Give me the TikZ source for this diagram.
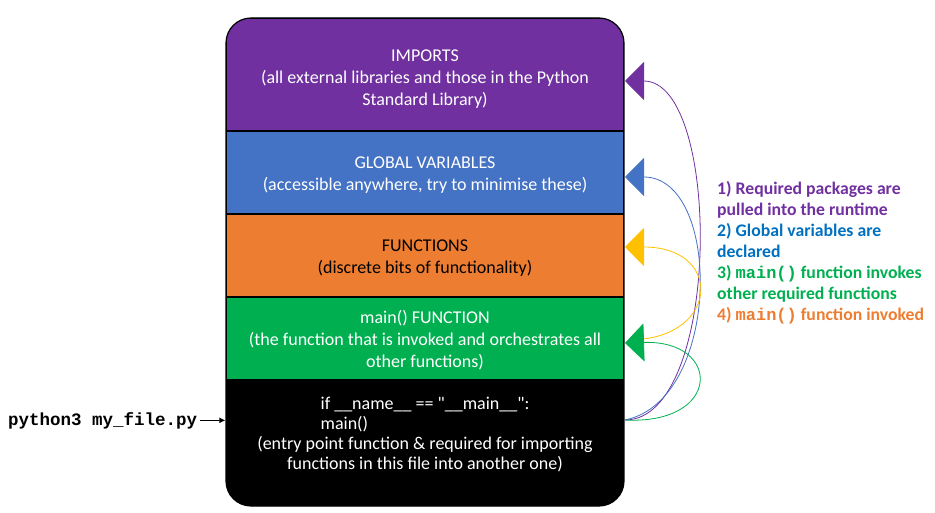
\documentclass[tikz,border=0pt]{standalone}
\usepackage{fontspec}
\setmainfont{Carlito}
\setmonofont{Liberation Mono}
\usepackage{calc}
\usetikzlibrary{arrows.meta}

\definecolor{impcol}{HTML}{7030A0}
\definecolor{glocol}{HTML}{4472C4}
\definecolor{funcol}{HTML}{ED7D31}
\definecolor{maicol}{HTML}{00B050}
\definecolor{yelcol}{HTML}{FFC000}
\definecolor{declcol}{HTML}{0070C0}

\newcommand{\ifline}{if \_\_name\_\_ == \textquotedbl\_\_main\_\_\textquotedbl:}
\newcommand{\code}[1]{{\ttfamily\fontsize{17}{21}\selectfont #1}}

\begin{document}
\begin{tikzpicture}[x=1pt,y=-1pt,
	sect/.style={draw=black,line width=1.2pt,minimum width=398pt,inner sep=0pt,align=center,text=white,font=\fontsize{18}{22}\selectfont},
	flow/.style={line width=0.8pt,-{Triangle[width=38pt,length=19pt]}}]
		\useasboundingbox (0,0) rectangle (935,513);
		
		% each section runs a bit under the next one, which paints over it
		\begin{scope}
		\clip[rounded corners=25pt] (226,18) rectangle (624,506);
		\node[sect,fill=impcol,minimum height=123pt] (imports) at (425,79.5) {IMPORTS\\(all external libraries and those in the Python\\Standard Library)};
		\node[sect,fill=glocol,minimum height=89pt] (globals) at (425,175.5) {GLOBAL VARIABLES\\(accessible anywhere, try to minimise these)};
		\node[sect,fill=funcol,minimum height=89pt,text=black] (funcs) at (425,258.5) {FUNCTIONS\\(discrete bits of functionality)};
		\node[sect,fill=maicol,minimum height=86pt] (mainfn) at (425,340) {main() FUNCTION\\(the function that is invoked and orchestrates all\\other functions)};
		\node[sect,fill=black,minimum height=126pt,font=\fontsize{18}{20}\selectfont] (entry) at (425,443) {\ifline\\\makebox[\widthof{\ifline}][l]{main()}\\(entry point function \& required for importing\\functions in this file into another one)\\\mbox{}};
		\end{scope}
		\draw[line width=1.2pt,rounded corners=25pt] (226,18) rectangle (624,506);
		
		\node[anchor=base west,inner sep=0pt,font=\ttfamily\bfseries\fontsize{17.5}{20}\selectfont] (cmd) at (8,425) {python3 my\_file.py};
		\draw[line width=1.5pt,-{Latex[length=6pt,width=6pt]}] (cmd.east) ++(3,0) -- (cmd.east -| entry.west);
		
		\coordinate (src) at (625,420);
		\coordinate (impin) at (625,81);
		\coordinate (gloin) at (625,177);
		\coordinate (funin) at (625,247);
		\coordinate (maiin) at (625,343);
		\coordinate (maiout) at (643,339);
		
		\draw[flow,impcol] (src) .. controls (722,420) and (722,81) .. (impin);
		\draw[flow,glocol] (src) .. controls (722,400) and (722,177) .. (gloin);
		\draw[flow,yelcol] (maiout) .. controls (720,330) and (720,247) .. (funin);
		\draw[flow,maicol] (src) .. controls (722,425) and (722,340) .. (maiin);
		
		\node[anchor=north west,align=left,inner sep=0pt,font=\bfseries\fontsize{17.7}{21}\selectfont] (steps) at (717,181) {\color{impcol}1) Required packages are\\\color{impcol}pulled into the runtime\\\color{declcol}2) Global variables are\\\color{declcol}declared\\\color{maicol}3) \code{main()} function invokes\\\color{maicol}other required functions\\\color{funcol}4) \code{main()} function invoked};
		
	\end{tikzpicture}
\end{document}
